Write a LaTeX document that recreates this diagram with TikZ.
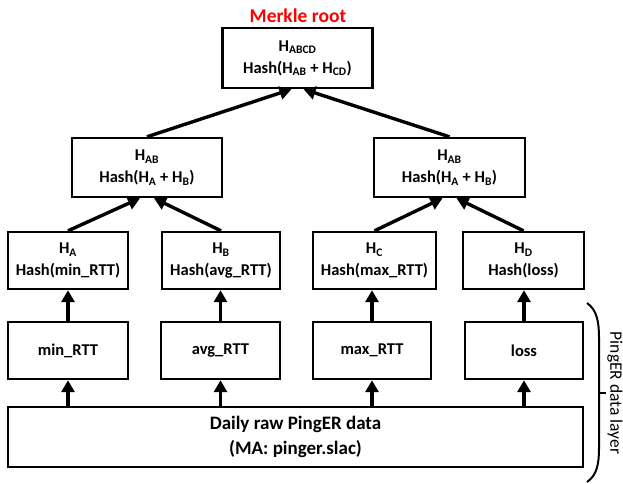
\documentclass[tikz,border=0pt]{standalone}
\usepackage{fontspec}
\setmainfont{Carlito}
\usetikzlibrary{arrows.meta}
\tikzset{
  hashbox/.style={draw, line width=2.4pt, align=center, inner sep=0pt,
    minimum height=57pt, font=\bfseries\fontsize{16.5}{22}\selectfont},
  uparrow/.style={line width=3.4pt, -{Triangle[length=12pt,width=13pt]}},
}
\newcommand{\hsub}[1]{H\textsubscript{#1}}

\begin{document}
\begin{tikzpicture}[x=1pt,y=-1pt]
  \useasboundingbox (0,0) rectangle (623,483);
  % merkle tree
  \node[text=red, font=\bfseries\fontsize{19.5}{20}\selectfont] (title) at (298,16) {Merkle root};
  \node[hashbox, minimum width=150pt, minimum height=60pt] (habcd) at (297.5,58) {\hsub{ABCD}\\Hash(\hsub{AB} + \hsub{CD})};
  \node[hashbox, minimum width=150pt, minimum height=59pt] (hab) at (147,167.5) {\hsub{AB}\\Hash(\hsub{A} + \hsub{B})};
  \node[hashbox, minimum width=151pt, minimum height=59pt] (hcd) at (449.5,167.5) {\hsub{AB}\\Hash(\hsub{A} + \hsub{B})};
  \node[hashbox, minimum width=120pt] (ha) at (68,260.5) {\hsub{A}\\Hash(min\_RTT)};
  \node[hashbox, minimum width=118pt] (hb) at (221,260.5) {\hsub{B}\\Hash(avg\_RTT)};
  \node[hashbox, minimum width=123pt] (hc) at (374.5,260.5) {\hsub{C}\\Hash(max\_RTT)};
  \node[hashbox, minimum width=121pt] (hd) at (523.5,260.5) {\hsub{D}\\Hash(loss)};
  % data layer
  \node[hashbox, minimum width=120pt] (dmin) at (68,350.5) {min\_RTT};
  \node[hashbox, minimum width=119pt] (davg) at (220.5,350.5) {avg\_RTT};
  \node[hashbox, minimum width=118pt] (dmax) at (372,350.5) {max\_RTT};
  \node[hashbox, minimum width=118pt] (dloss) at (524,350.5) {loss};
  \node[hashbox, minimum width=575pt, minimum height=60pt, font=\bfseries\fontsize{19}{25}\selectfont] (raw) at (295.5,437) {Daily raw PingER data\\(MA: pinger.slac)};
  % arrows
  \foreach \d/\h in {dmin/ha, davg/hb, dmax/hc, dloss/hd}
    \draw[uparrow] (raw.north -| \d.south) -- (\d.south);
  \foreach \d/\h in {dmin/ha, davg/hb, dmax/hc, dloss/hd}
    \draw[uparrow] (\d.north) -- (\d.north |- \h.south);
  \draw[uparrow] (ha.north) -- ([xshift=-7pt]hab.south);
  \draw[uparrow] (hb.north) -- ([xshift=7pt]hab.south);
  \draw[uparrow] (hc.north) -- ([xshift=-7pt]hcd.south);
  \draw[uparrow] (hd.north) -- ([xshift=7pt]hcd.south);
  \draw[uparrow] (hab.north) -- ([xshift=-6pt]habcd.south);
  \draw[uparrow] (hcd.north) -- ([xshift=6pt]habcd.south);
  % bracket
  \draw[line width=2pt] (587,303) .. controls (597,310) and (599,322) .. (599,338) -- (599,448)
    .. controls (599,464) and (597,475) .. (587,482);
  \draw[line width=2pt] (599,393) -- (606,393);
  \node[rotate=-90, font=\fontsize{17.5}{18}\selectfont] (layer) at (615,393) {PingER data layer};
\end{tikzpicture}
\end{document}
